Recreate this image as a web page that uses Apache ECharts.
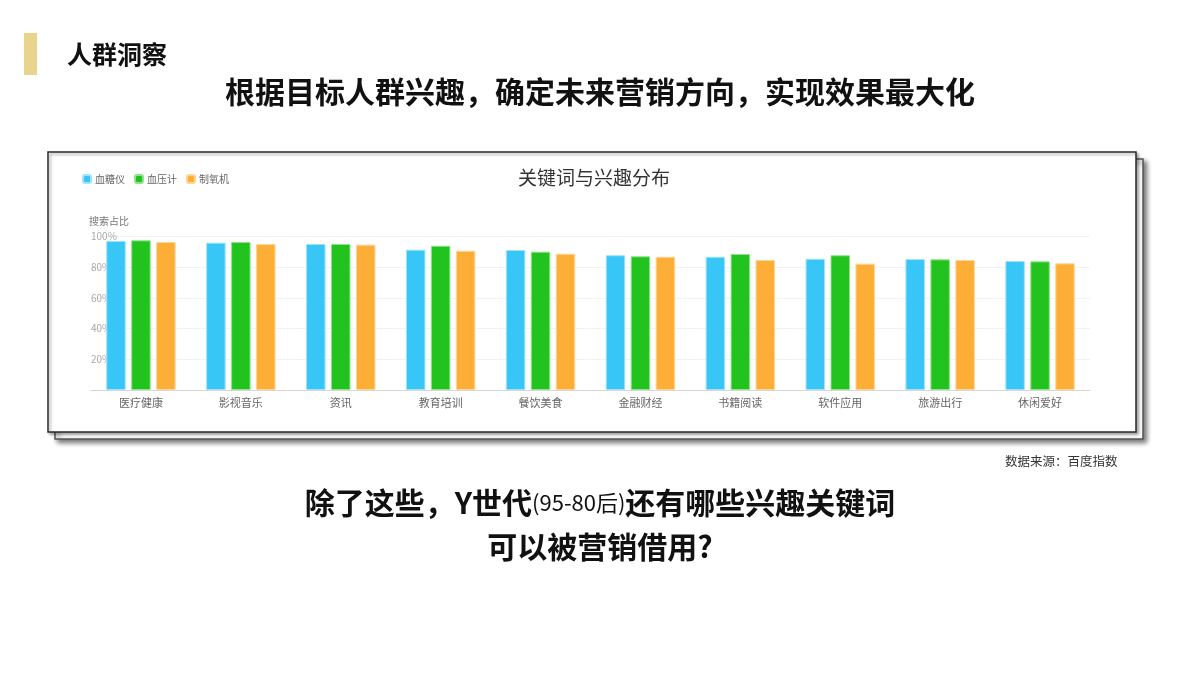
<!DOCTYPE html>
<html>
<head>
<meta charset="utf-8">
<script src="https://cdn.jsdelivr.net/npm/echarts@6/dist/echarts.min.js"></script>
<style>
html,body{margin:0;padding:0;background:#fff;}
#main{width:1200px;height:675px;}
</style>
</head>
<body>
<div id="main"></div>
<script>
const categories = ['医疗健康','影视音乐','资讯','教育培训','餐饮美食','金融财经','书籍阅读','软件应用','旅游出行','休闲爱好'];
const seriesNames = ['血糖仪','血压计','制氧机'];
const glucoseMeter = [97.1, 96.0, 95.1, 91.4, 91.2, 87.8, 86.8, 85.5, 85.3, 84.0];
const bloodPressure = [97.5, 96.4, 95.1, 94.0, 90.1, 87.1, 88.6, 87.8, 85.1, 83.8];
const oxygenMaker = [96.4, 95.1, 94.7, 90.7, 88.8, 86.8, 84.7, 82.3, 84.7, 82.5];
const yTicks = [0, 20, 40, 60, 80, 100];

const FONT = '"Noto Sans CJK SC", "Noto Sans", sans-serif';
const colors = ['#37c6f6', '#22c31e', '#fdae36'];
const borders = ['#9fe3fb', '#8fe38c', '#fed599'];

const chart = echarts.init(document.getElementById('main'), null, {renderer: 'canvas'});

const dataSets = [glucoseMeter, bloodPressure, oxygenMaker];
const series = seriesNames.map((name, i) => ({
  name: name,
  type: 'bar',
  data: dataSets[i],
  barWidth: 19.5,
  barGap: '28%',
  itemStyle: {color: colors[i], borderColor: borders[i], borderWidth: 1},
  z: 3
}));

chart.setOption({
  animation: false,
  textStyle: {fontFamily: FONT},
  graphic: [
    // back frame with shadow
    {type: 'rect', shape: {x: 55, y: 159, width: 1088, height: 280}, z: 0, zlevel: 0,
     style: {fill: '#fff', stroke: '#555', lineWidth: 1.5, shadowBlur: 5, shadowOffsetX: 3, shadowOffsetY: 3, shadowColor: 'rgba(0,0,0,0.55)'}},
    // front frame
    {type: 'rect', shape: {x: 48, y: 152, width: 1088, height: 280}, z: 0, zlevel: 0,
     style: {fill: '#fff', stroke: '#2a2a2a', lineWidth: 1.5, shadowBlur: 3, shadowOffsetX: 2, shadowOffsetY: 2, shadowColor: 'rgba(0,0,0,0.35)'}},
    // gold marker
    {type: 'rect', shape: {x: 24, y: 33, width: 13, height: 42}, style: {fill: '#e8d48c'}},
    {type: 'text', left: 67, top: 42, style: {text: '人群洞察', font: 'bold 25px ' + FONT, fill: '#111'}},
    {type: 'text', left: 'center', top: 77, style: {text: '根据目标人群兴趣，确定未来营销方向，实现效果最大化', font: 'bold 30px ' + FONT, fill: '#111'}},
    {type: 'text', left: 1005, top: 455, style: {text: '数据来源：百度指数', font: '12.5px ' + FONT, fill: '#333'}},
    {type: 'text', left: 'center', top: 488, style: {
      text: '{b|除了这些，Y世代}{s|(95-80后)}{b|还有哪些兴趣关键词}',
      rich: {
        b: {font: 'bold 30px ' + FONT, fill: '#111', color: '#111'},
        s: {font: '22px ' + FONT, fill: '#111', color: '#111'}
      }
    }},
    {type: 'text', left: 'center', top: 532, style: {text: '可以被营销借用?', font: 'bold 30px ' + FONT, fill: '#111'}}
  ],
  title: {
    text: '关键词与兴趣分布',
    left: 589, textAlign: 'center', top: 163,
    textStyle: {fontSize: 19, fontWeight: 'normal', color: '#333', fontFamily: FONT}
  },
  legend: {
    left: 77, top: 169,
    itemWidth: 8, itemHeight: 8, itemGap: 9, icon: 'roundRect',
    textStyle: {fontSize: 10, color: '#666', fontFamily: FONT, padding: [0, 0, 0, -1]},
    data: seriesNames
  },
  grid: {left: 91, right: 110, top: 236.5, bottom: 285, containLabel: false},
  xAxis: {
    type: 'category',
    data: categories,
    axisLine: {lineStyle: {color: '#d6d6d6'}},
    axisTick: {show: false},
    axisLabel: {color: '#666', fontSize: 11, margin: 7, fontFamily: FONT}
  },
  yAxis: {
    type: 'value',
    min: yTicks[0], max: yTicks[yTicks.length - 1], interval: 20,
    name: '搜索占比',
    nameLocation: 'end',
    nameGap: 10,
    nameTextStyle: {color: '#777', fontSize: 10, align: 'left', padding: [0, 0, 0, -2], fontFamily: FONT},
    axisLine: {show: false},
    axisTick: {show: false},
    axisLabel: {
      inside: true, margin: 0, color: '#aaa', fontSize: 10, fontFamily: FONT,
      formatter: v => (v === 0 ? '' : v + '%')
    },
    splitLine: {lineStyle: {color: '#f2f2f2'}}
  },
  series: series
});
</script>
</body>
</html>
